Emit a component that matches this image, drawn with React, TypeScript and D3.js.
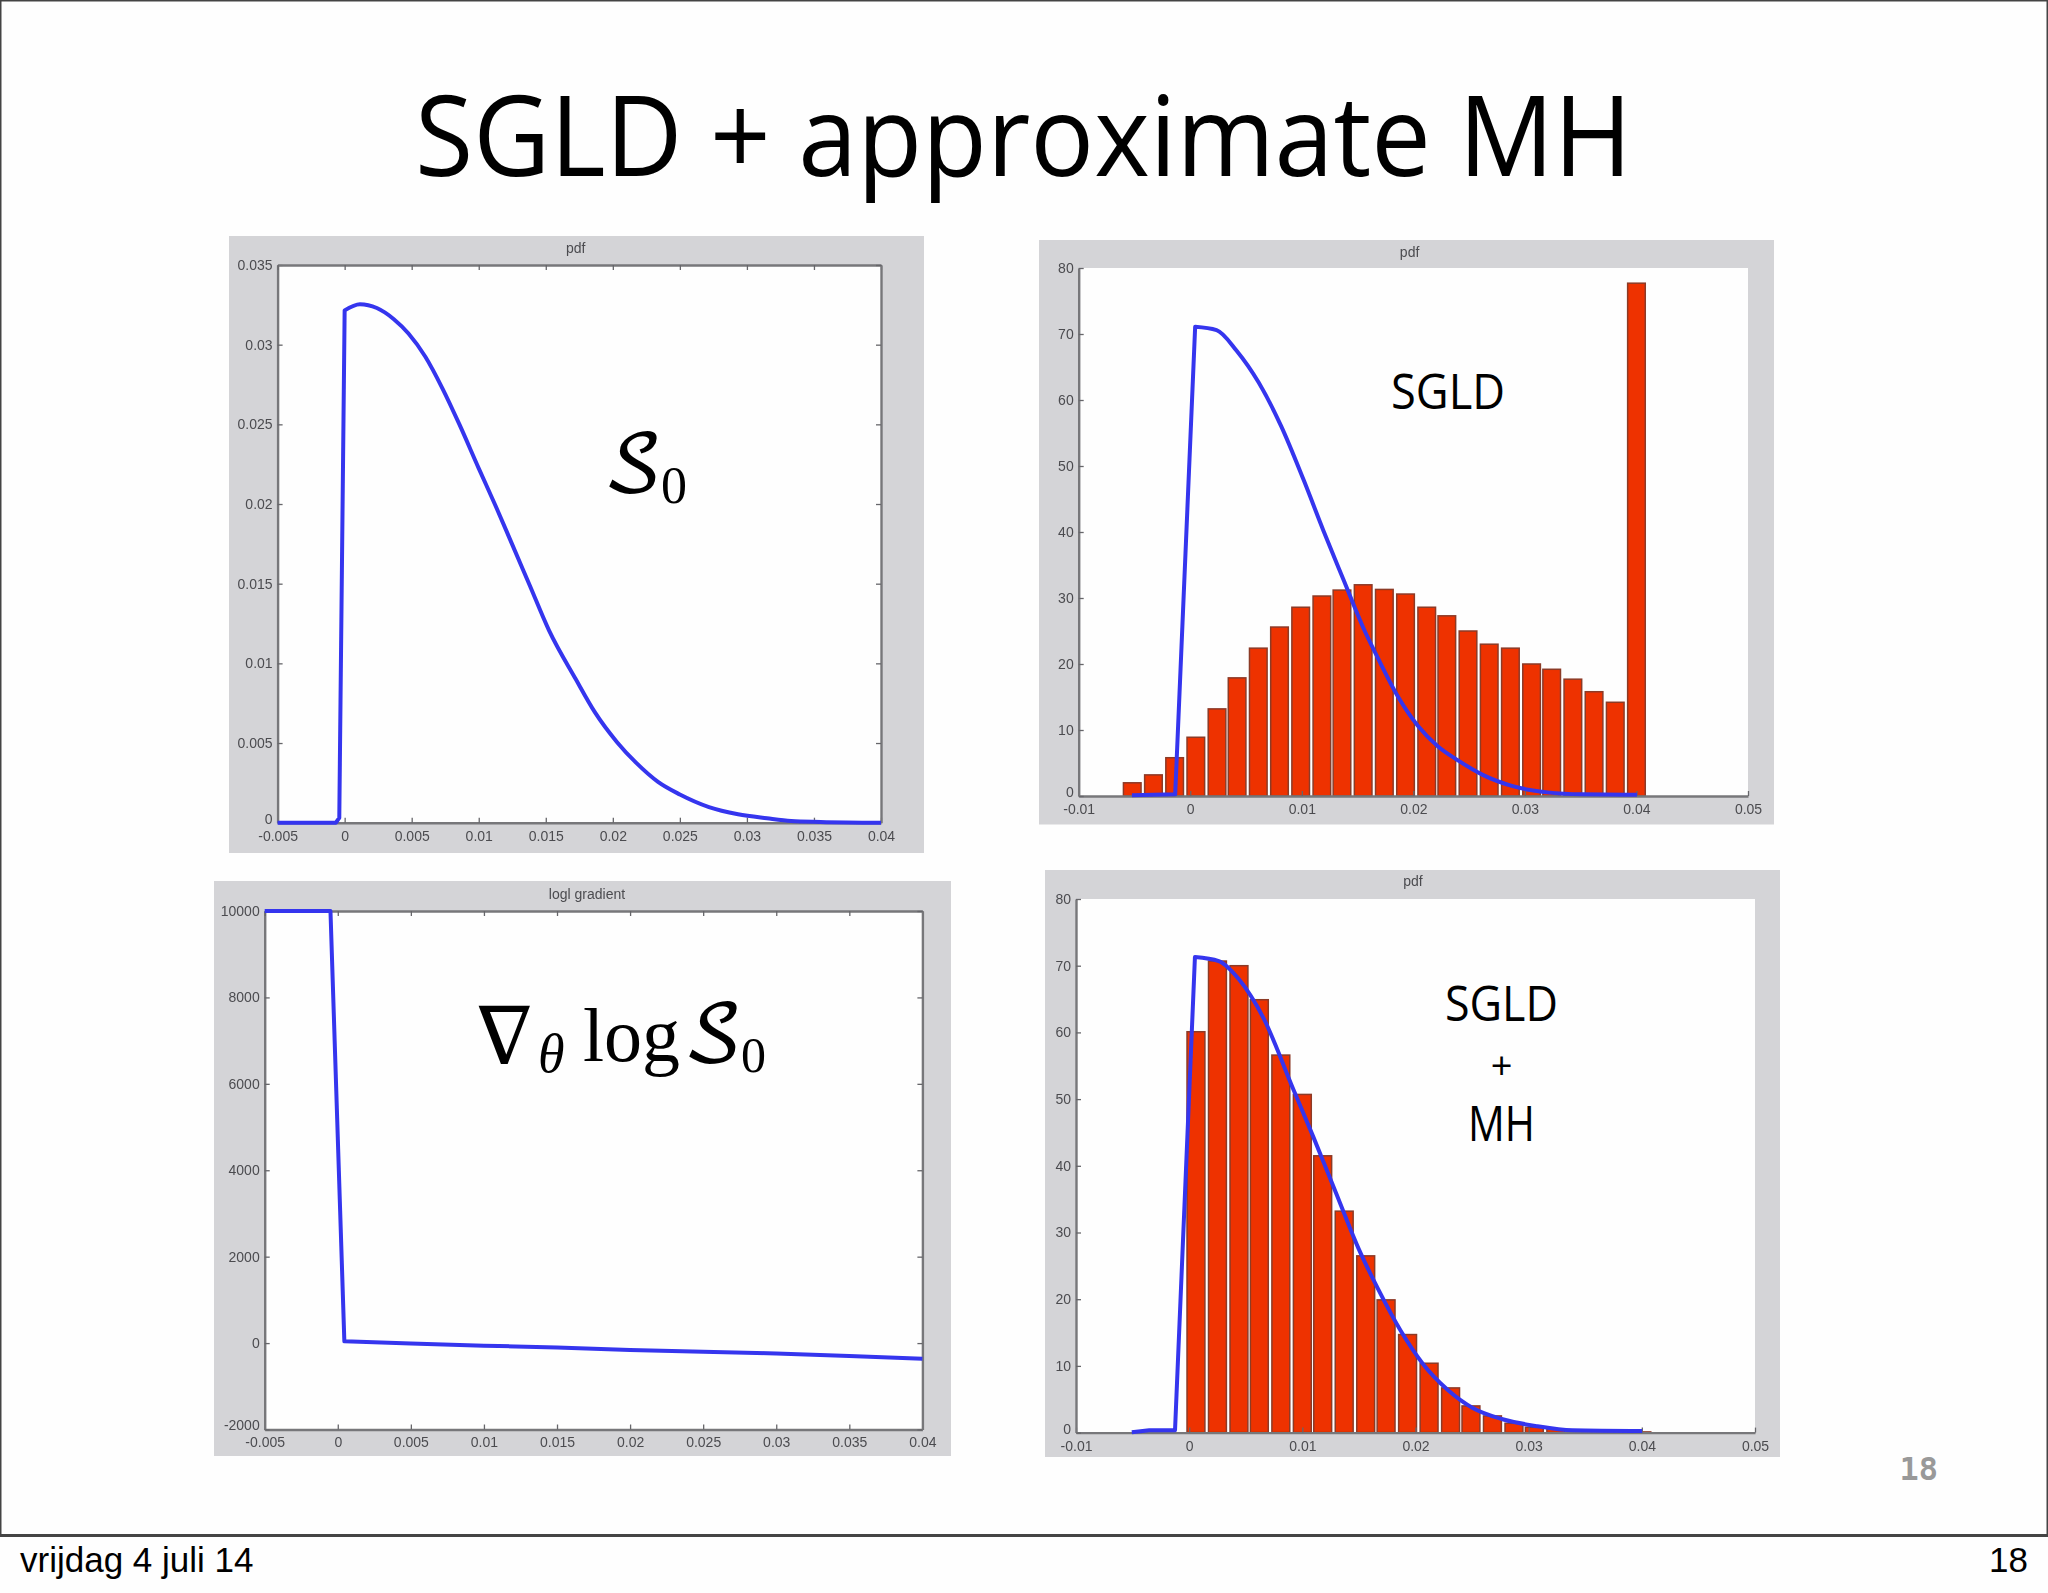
import React, { useEffect, useRef } from 'react';
import * as d3 from 'd3';

type Pt = [number, number];

const x45Ticks = [-0.005, 0, 0.005, 0.01, 0.015, 0.02, 0.025, 0.03, 0.035, 0.04];
const x45Labels = ['-0.005', '0', '0.005', '0.01', '0.015', '0.02', '0.025', '0.03', '0.035', '0.04'];
const x60Ticks = [-0.01, 0, 0.01, 0.02, 0.03, 0.04, 0.05];
const x60Labels = ['-0.01', '0', '0.01', '0.02', '0.03', '0.04', '0.05'];
const pdfYTicks = [0, 0.005, 0.01, 0.015, 0.02, 0.025, 0.03, 0.035];
const pdfYLabels = ['0', '0.005', '0.01', '0.015', '0.02', '0.025', '0.03', '0.035'];
const gradYTicks = [-2000, 0, 2000, 4000, 6000, 8000, 10000];
const gradYLabels = ['-2000', '0', '2000', '4000', '6000', '8000', '10000'];
const histYTicks = [0, 10, 20, 30, 40, 50, 60, 70, 80];
const histYLabels = ['0', '10', '20', '30', '40', '50', '60', '70', '80'];

const s0Curve: Pt[] = [
  [-0.005, 0], [-0.00066, 0], [-0.0004, 0.0003], [0, 0.03215], [0.00114, 0.03254], [0.0024, 0.0323],
  [0.00367, 0.0316], [0.00476, 0.0307], [0.00602, 0.02924], [0.00729, 0.02726], [0.00855, 0.02501],
  [0.01, 0.02224], [0.01127, 0.01986], [0.01235, 0.01775], [0.0138, 0.0149], [0.01524, 0.01207],
  [0.01722, 0.00903], [0.01867, 0.00692], [0.0203, 0.00507], [0.02175, 0.00375], [0.02337, 0.00256],
  [0.025, 0.00177], [0.02717, 0.00098], [0.02934, 0.00053], [0.0315, 0.00028], [0.0333, 0.00011],
  [0.0355, 0.00005], [0.04, 0],
];
const gradCurve: Pt[] = [
  [-0.005, 10000], [-0.0005, 10000], [0.00045, 40], [0.005, -10], [0.01, -60], [0.015, -100],
  [0.02, -160], [0.025, -200], [0.03, -240], [0.035, -300], [0.04, -360],
];
const sgldCurve: Pt[] = [
  [-0.00523, 0.1], [-0.00135, 0.25], [0.00044, 71.1], [0.00236, 70.6], [0.00414, 67.5], [0.00615, 62.6],
  [0.00816, 56], [0.01016, 47.9], [0.01194, 40.2], [0.01373, 32.8], [0.01551, 25.5], [0.01685, 20.8],
  [0.01864, 15], [0.02042, 10.6], [0.02221, 7.5], [0.024, 5.4], [0.02622, 3.2], [0.0289, 1.5],
  [0.03202, 0.55], [0.03514, 0.25], [0.04005, 0.2],
];
const mhCurve: Pt[] = [
  [-0.00507, 0.05], [-0.00353, 0.35], [-0.00125, 0.35], [0.00051, 71.3], [0.00262, 70.7], [0.00438, 68],
  [0.00658, 62.1], [0.00922, 51.4], [0.01098, 44.3], [0.01296, 36], [0.01494, 27.7], [0.0167, 21.5],
  [0.01868, 15.3], [0.02066, 10.3], [0.02286, 6.4], [0.02506, 3.7], [0.0277, 2], [0.03078, 0.95],
  [0.03386, 0.35], [0.04002, 0.24],
];

const sgldBins = [
  -0.0052, -0.0033, -0.0014, 0.0005, 0.0024, 0.0042, 0.0061, 0.008, 0.0099, 0.0118, 0.0136, 0.0155, 0.0174,
  0.0193, 0.0212, 0.023, 0.0249, 0.0268, 0.0287, 0.0306, 0.0324, 0.0343, 0.0362, 0.0381, 0.04,
];
const sgldCounts = [
  2, 3.2, 5.8, 8.9, 13.2, 17.9, 22.4, 25.6, 28.6, 30.3, 31.2, 32, 31.3, 30.6, 28.6, 27.3, 25, 23, 22.4, 20,
  19.2, 17.7, 15.8, 14.2, 77.7,
];
const mhBins = [
  0.0006, 0.0025, 0.0044, 0.0062, 0.0081, 0.01, 0.0118, 0.0137, 0.0156, 0.0174, 0.0193, 0.0212, 0.0231,
  0.0249, 0.0268, 0.0287, 0.0305, 0.0324, 0.0343, 0.0362, 0.0381, 0.04,
];
const mhCounts = [
  60.1, 70.7, 70, 64.9, 56.6, 50.7, 41.5, 33.2, 26.5, 19.9, 14.7, 10.4, 6.7, 4, 2.5, 1.4, 0.8, 0.5, 0.25,
  0.1, 0.05, 0.1,
];

const FONT = '"Liberation Sans", Arial, sans-serif';
const BLUE = '#3535ee';
const RED = '#ee3300';
const PANEL = '#d4d4d7';

type PanelProps = {
  frame: [number, number, number, number];
  plot: [number, number, number, number];
  title: string;
  titleAt: [number, number];
  xDomain: [number, number];
  yDomain: [number, number];
  xTicks: number[];
  xLabels: string[];
  yTicks: number[];
  yLabels: string[];
  curve: Pt[];
  bins?: number[];
  counts?: number[];
  box?: boolean;
  straight?: boolean;
};

function Panel(props: PanelProps) {
  const ref = useRef<SVGGElement>(null);

  useEffect(() => {
    const { frame, plot, title, titleAt, xDomain, yDomain, xTicks, xLabels, yTicks, yLabels, curve, bins, counts, box, straight } = props;
    const [left, top, right, bottom] = plot;
    const g = d3.select(ref.current);
    g.selectAll('*').remove();

    const x = d3.scaleLinear().domain(xDomain).range([left, right]);
    const y = d3.scaleLinear().domain(yDomain).range([bottom, top]);

    g.append('rect')
      .attr('x', frame[0]).attr('y', frame[1])
      .attr('width', frame[2] - frame[0]).attr('height', frame[3] - frame[1])
      .attr('fill', PANEL);
    g.append('rect')
      .attr('x', left).attr('y', top)
      .attr('width', right - left).attr('height', bottom - top)
      .attr('fill', '#fefefe');

    // histogram first, the curve sits on top of it
    if (bins && counts) {
      const binWidth = 0.00158;
      g.selectAll('rect.bar')
        .data(bins)
        .join('rect')
        .attr('class', 'bar')
        .attr('x', (d) => x(d - binWidth / 2))
        .attr('y', (d, i) => y(counts[i]))
        .attr('width', x(binWidth) - x(0))
        .attr('height', (d, i) => y(0) - y(counts[i]))
        .attr('fill', RED)
        .attr('stroke', '#8c3a28')
        .attr('stroke-width', 1.5);
    }

    const bottomAxis = d3.axisBottom(x).tickValues(xTicks)
      .tickFormat((d, i) => xLabels[i]).tickSizeInner(-5).tickSizeOuter(0).tickPadding(8);
    const leftAxis = d3.axisLeft(y).tickValues(yTicks)
      .tickFormat((d, i) => yLabels[i]).tickSizeInner(-5).tickSizeOuter(0).tickPadding(5);

    const ax = g.append('g').attr('fill', 'none');
    ax.append('g').attr('transform', `translate(0,${bottom})`).call(bottomAxis);
    const leftG = ax.append('g').attr('transform', `translate(${left},0)`).call(leftAxis);
    // the lowest y label would run into the first x label
    leftG.selectAll('.tick text').filter((d, i) => i === 0).attr('transform', 'translate(0,-4)');
    if (box) {
      const topG = ax.append('g').attr('transform', `translate(0,${top})`)
        .call(d3.axisTop(x).tickValues(xTicks).tickSizeInner(-5).tickSizeOuter(0));
      const rightG = ax.append('g').attr('transform', `translate(${right},0)`)
        .call(d3.axisRight(y).tickValues(yTicks).tickSizeInner(-5).tickSizeOuter(0));
      topG.selectAll('text').remove();
      rightG.selectAll('text').remove();
    }
    ax.selectAll('.domain').attr('stroke', '#77777a').attr('stroke-width', 2.4);
    ax.selectAll('.tick line').attr('stroke', '#66666a').attr('stroke-width', 1.3);
    ax.selectAll('.tick text')
      .attr('fill', '#4c4c50')
      .style('font-family', FONT)
      .style('font-size', '14px');

    // the jump up to the peak is a straight segment, only the tail is smooth
    const peak = d3.max(curve, (d) => d[1]) as number;
    const k = straight ? curve.length - 1 : curve.findIndex((d) => d[1] > peak * 0.8);
    const straightLine = d3.line<Pt>().x((d) => x(d[0])).y((d) => y(d[1]));
    const smoothLine = d3.line<Pt>().x((d) => x(d[0])).y((d) => y(d[1])).curve(d3.curveMonotoneX);
    const tail = smoothLine(curve.slice(k)) as string;
    const head = straightLine(curve.slice(0, k + 1)) as string;
    g.append('path')
      .attr('d', straight ? head : head + 'L' + tail.slice(1))
      .attr('fill', 'none')
      .attr('stroke', BLUE)
      .attr('stroke-width', 4)
      .attr('stroke-linejoin', 'round');

    g.append('text')
      .attr('x', titleAt[0]).attr('y', titleAt[1])
      .attr('text-anchor', 'middle')
      .attr('dominant-baseline', 'middle')
      .attr('fill', '#4c4c50')
      .style('font-family', FONT)
      .style('font-size', '14px')
      .text(title);
  }, [props]);

  return <g ref={ref} filter="url(#soft)" />;
}

export default function App() {
  const sans = '"Open Sans", "Noto Sans", sans-serif';
  const serif = '"Liberation Serif", serif';
  const script = '"DejaVu Math TeX Gyre", "Liberation Serif", serif';
  return (
    <svg
      width={2048}
      height={1593}
      style={{ position: 'absolute', left: 0, top: 0, background: '#fefefe' }}
    >
      <defs>
        <filter id="soft" x="-2%" y="-2%" width="104%" height="104%">
          <feGaussianBlur stdDeviation="0.75" />
        </filter>
      </defs>

      <path d="M0.75,1535V0.75H2047.25V1535" fill="none" stroke="#444" strokeWidth={1.5} />
      <rect x={0} y={1534} width={2048} height={3} fill="#444" />

      <text
        x={415}
        y={176}
        fontFamily={sans}
        fontSize={112}
        fill="#000"
        textLength={1217}
        lengthAdjust="spacingAndGlyphs"
      >
        SGLD + approximate MH
      </text>

      <Panel
        frame={[229, 236, 924, 853]}
        plot={[277.6, 265, 881, 822.7]}
        title="pdf"
        titleAt={[575.7, 249.5]}
        xDomain={[-0.005, 0.04]}
        yDomain={[0, 0.035]}
        xTicks={x45Ticks}
        xLabels={x45Labels}
        yTicks={pdfYTicks}
        yLabels={pdfYLabels}
        curve={s0Curve}
        box
      />
      <Panel
        frame={[1039, 240, 1774, 824.5]}
        plot={[1078.7, 268, 1748, 796]}
        title="pdf"
        titleAt={[1409.6, 253.5]}
        xDomain={[-0.01, 0.05]}
        yDomain={[0, 80]}
        xTicks={x60Ticks}
        xLabels={x60Labels}
        yTicks={histYTicks}
        yLabels={histYLabels}
        curve={sgldCurve}
        bins={sgldBins}
        counts={sgldCounts}
      />
      <Panel
        frame={[214, 881, 951, 1456]}
        plot={[264.7, 911, 922.4, 1429.5]}
        title="logl gradient"
        titleAt={[587, 895]}
        xDomain={[-0.005, 0.04]}
        yDomain={[-2000, 10000]}
        xTicks={x45Ticks}
        xLabels={x45Labels}
        yTicks={gradYTicks}
        yLabels={gradYLabels}
        curve={gradCurve}
        box
        straight
      />
      <Panel
        frame={[1045, 870, 1780, 1457]}
        plot={[1076, 899, 1755, 1432.6]}
        title="pdf"
        titleAt={[1413, 882]}
        xDomain={[-0.01, 0.05]}
        yDomain={[0, 80]}
        xTicks={x60Ticks}
        xLabels={x60Labels}
        yTicks={histYTicks}
        yLabels={histYLabels}
        curve={mhCurve}
        bins={mhBins}
        counts={mhCounts}
      />

      <text x={603} y={491} fontFamily={script} fontSize={78} fill="#000">
        𝒮
        <tspan x={661} y={503} fontFamily={serif} fontSize={52}>
          0
        </tspan>
      </text>

      <text x={469} y={1063} fontFamily={script} fontSize={80} fill="#000">
        ∇
        <tspan x={538} y={1072} fontFamily={serif} fontStyle="italic" fontSize={54}>
          θ
        </tspan>
        <tspan x={583} y={1060.5} fontFamily={serif} fontSize={76}>
          log
        </tspan>
        <tspan x={683} y={1060.5} fontSize={78}>
          𝒮
        </tspan>
        <tspan x={741} y={1072} fontFamily={serif} fontSize={50}>
          0
        </tspan>
      </text>

      <text x={1391} y={408.5} fontFamily={sans} fontSize={49} fill="#000" textLength={114} lengthAdjust="spacingAndGlyphs">
        SGLD
      </text>
      <text x={1445} y={1021} fontFamily={sans} fontSize={49} fill="#000" textLength={113} lengthAdjust="spacingAndGlyphs">
        SGLD
      </text>
      <text x={1501.5} y={1079} textAnchor="middle" fontFamily={sans} fontSize={38} fill="#000">
        +
      </text>
      <text x={1468} y={1141} fontFamily={sans} fontSize={49} fill="#000" textLength={67} lengthAdjust="spacingAndGlyphs">
        MH
      </text>

      <text
        x={1938}
        y={1480}
        textAnchor="end"
        fontFamily='"DejaVu Sans Mono", monospace'
        fontWeight="bold"
        fontSize={32}
        fill="#999"
      >
        18
      </text>

      <text x={20} y={1572} fontFamily={FONT} fontSize={35} fill="#000">
        vrijdag 4 juli 14
      </text>
      <text x={2028} y={1572} textAnchor="end" fontFamily={FONT} fontSize={35} fill="#000">
        18
      </text>
    </svg>
  );
}
